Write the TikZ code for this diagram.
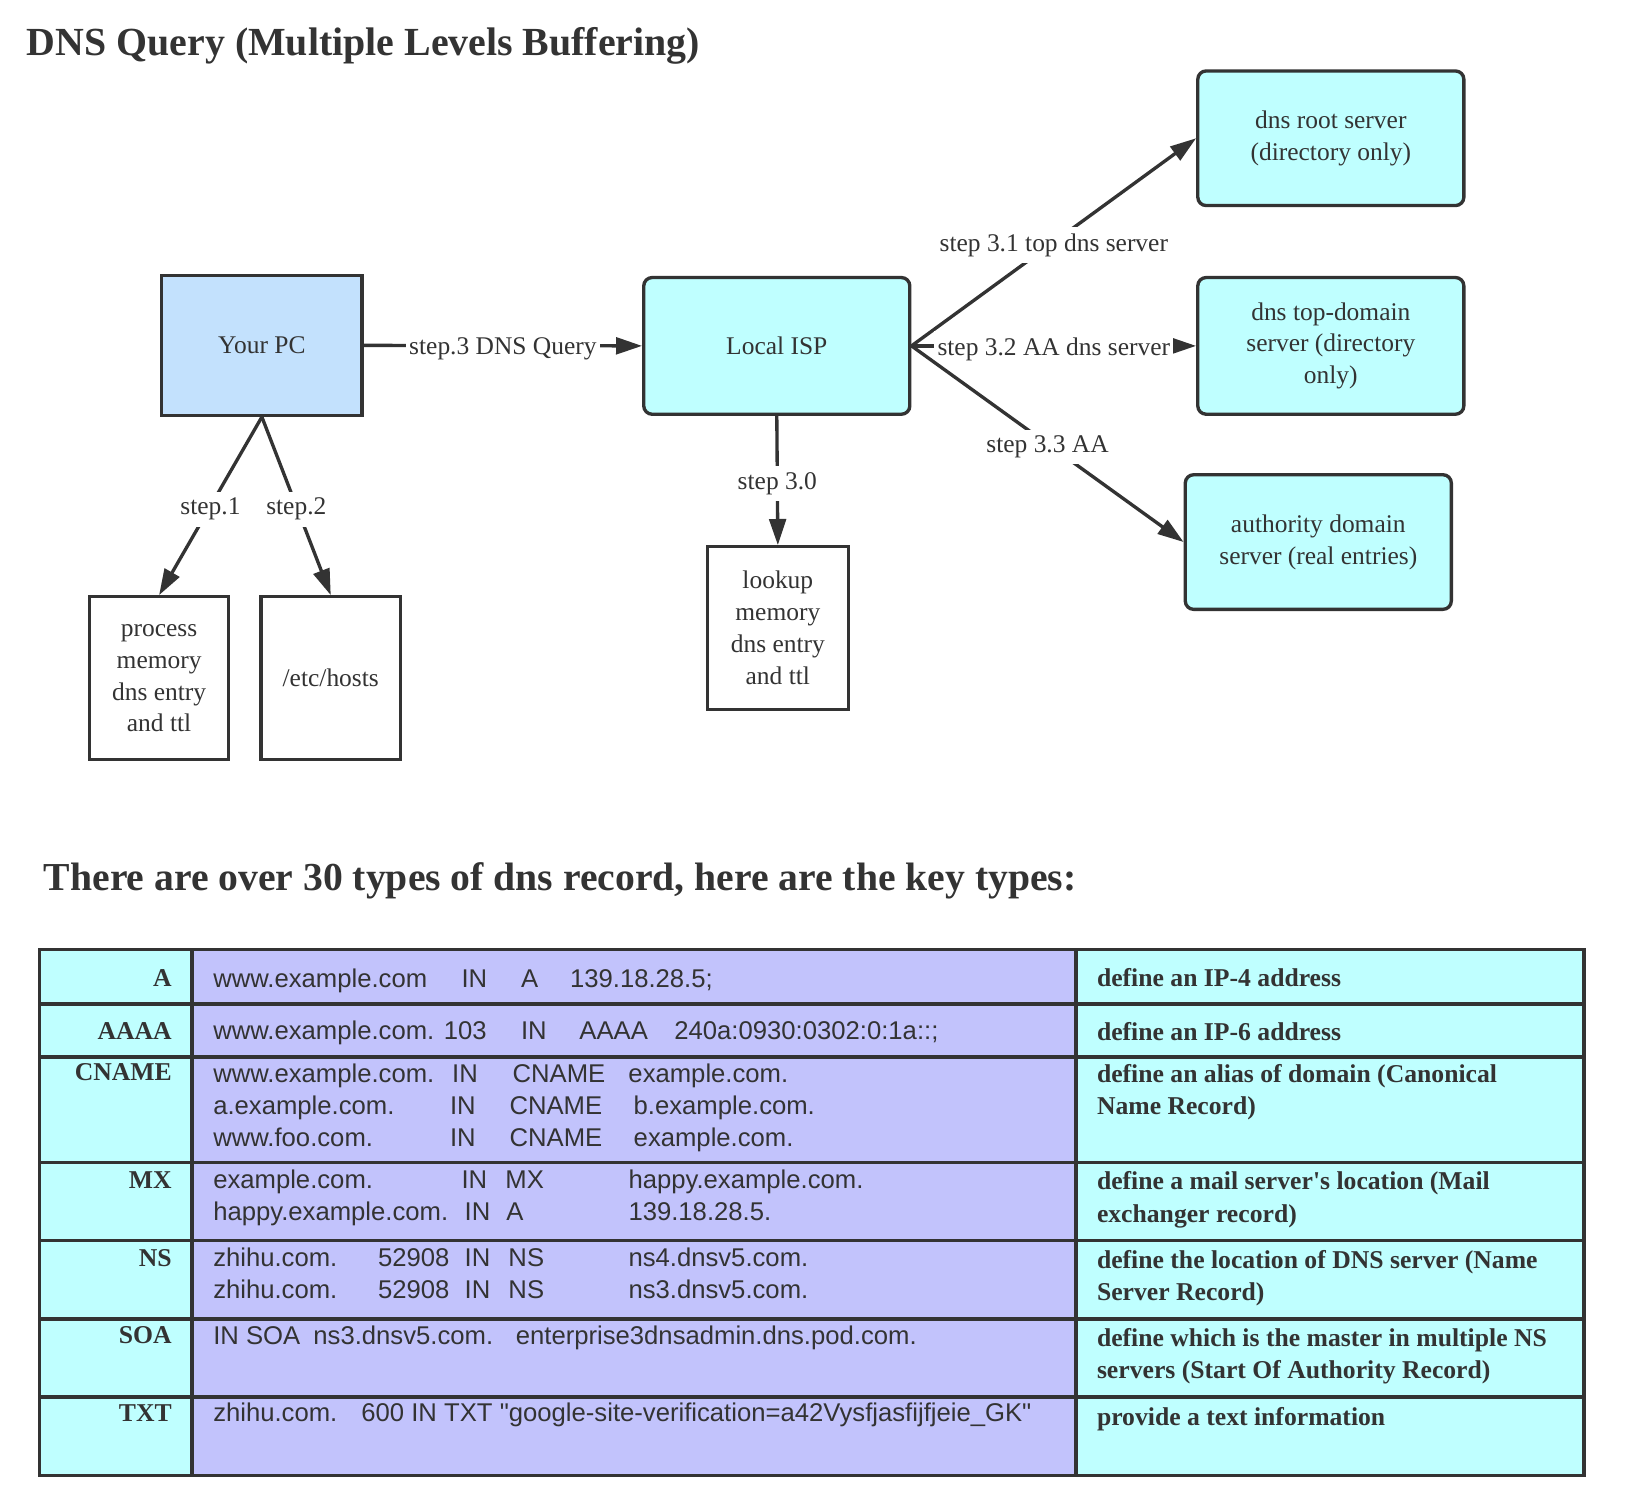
\documentclass[tikz,border=0pt]{standalone}
\usepackage{fontspec}
\setmainfont{Liberation Serif}[Ligatures=TeXOff]
\setsansfont{Liberation Sans}[Ligatures=TeXOff]
\usetikzlibrary{arrows.meta}
\definecolor{ink}{HTML}{333333}
\definecolor{pcblue}{HTML}{C3E1FD}
\definecolor{cyanf}{HTML}{BFFFFF}
\definecolor{lav}{HTML}{C2C3FC}
\newcommand\dnsnodefont{\fontsize{12.2}{15.3}\selectfont}
\newcommand\dnstitlefont{\fontsize{19.1}{23}\selectfont\bfseries}
\newcommand\dnstblbold{\fontsize{12.3}{15.4}\selectfont\bfseries}
\newcommand\dnstblsans{\sffamily\fontsize{12.3}{15.2}\selectfont}
\newcommand\tk[2]{\makebox[#1pt][l]{#2}}
\begin{document}
\begin{tikzpicture}[x=0.5pt,y=-0.5pt,
  box/.style={draw=ink, line width=1.6pt, align=center, text=ink, font=\dnsnodefont, inner sep=2pt},
  rbox/.style={box, fill=cyanf, rounded corners=4pt, minimum width=127.5pt},
  wbox/.style={box, fill=white, minimum width=66.5pt, minimum height=78pt},
  conn/.style={draw=ink, line width=1.6pt, -{Triangle[length=12.5pt,width=8pt]}},
  lbl/.style={fill=white, font=\dnsnodefont, text=ink, inner xsep=1.5pt, inner ysep=3pt, yshift=-1.5pt},
  heading/.style={anchor=base west, inner sep=0pt, font=\dnstitlefont, text=ink},
  tbl/.style={draw=ink, line width=1.7pt},
  lcol/.style={anchor=base east, inner sep=0pt, font=\dnstblbold, text=ink},
  mcol/.style={anchor=base west, inner sep=0pt, font=\dnstblsans, text=ink},
  rcol/.style={anchor=base west, inner sep=0pt, font=\dnstblbold, text=ink, align=left}
]
\useasboundingbox (0,0) rectangle (1568,1447);

% title
\node[heading] (title) at (25.4,53) {DNS Query (Multiple Levels Buffering)};

% nodes
\node[box, fill=pcblue, minimum width=96pt, minimum height=67pt] (pc) at (251,331) {Your PC};
\node[rbox, minimum height=65.5pt] (isp) at (744.5,331.5) {Local ISP};
\node[rbox, minimum height=64.5pt] (root) at (1275.5,132.5) {dns root server\\(directory only)};
\node[rbox, minimum height=65.5pt] (topd) at (1275.5,331.5) {dns top-domain\\server (directory\\only)};
\node[rbox, minimum height=64.5pt] (auth) at (1263.5,519.5) {authority domain\\server (real entries)};
\node[wbox] (proc) at (152.5,650) {process\\memory\\dns entry\\and ttl};
\node[wbox, minimum width=67pt] (hosts) at (317,650) {/etc/hosts};
\node[wbox, minimum width=67.5pt] (lookup) at (745.5,602) {lookup\\memory\\dns entry\\and ttl};

% connectors
\draw[conn] (pc.south) -- node[lbl] {step.1} (proc.north);
\draw[conn] (pc.south) -- node[lbl] {step.2} (hosts.north);
\draw[conn] (pc.east) -- node[lbl] {step.3 DNS Query} (isp.west);
\draw[conn] (isp.south) -- node[lbl] {step 3.0} (lookup.north);
\draw[conn] (isp.east) -- node[lbl] {step 3.1 top dns server} (root.west);
\draw[conn] (isp.east) -- node[lbl] {step 3.2 AA dns server} (topd.west);
\draw[conn] (isp.east) -- node[lbl] {step 3.3 AA} (auth.west);

% second heading
\node[heading, font=\fontsize{19}{23}\selectfont\bfseries] (head2) at (41.7,853) {There are over 30 types of dns record, here are the key types:};

% table
\fill[cyanf] (38,910) rectangle (184,1414);
\fill[lav] (184,910) rectangle (1031,1414);
\fill[cyanf] (1031,910) rectangle (1518,1414);
\foreach \yy in {962,1013,1114,1189,1264,1339} \draw[tbl] (38,\yy) -- (1518,\yy);
\foreach \xx in {184,1031} \draw[tbl] (\xx,910) -- (\xx,1414);
\draw[tbl] (38,910) rectangle (1518,1414);

% left column
\node[lcol] (lA) at (165,945) {A};
\node[lcol] (lAAAA) at (165,996) {AAAA};
\node[lcol] (lCNAME) at (165,1036) {CNAME};
\node[lcol] (lMX) at (165,1139) {MX};
\node[lcol] (lNS) at (165,1214) {NS};
\node[lcol] (lSOA) at (165,1288) {SOA};
\node[lcol] (lTXT) at (165,1362) {TXT};

% middle column
\node[mcol] (m1) at (204,946) {\tk{119}{www.example.com}\tk{28.5}{IN}\tk{23.5}{A}139.18.28.5;};
\node[mcol] (m2) at (204,996.5) {\tk{147.5}{www.example.com. 103}\tk{28}{IN}\tk{45.5}{AAAA}240a:0930:0302:0:1a::;};
\node[mcol] (m3a) at (204,1037.5) {\tk{114.5}{www.example.com.}\tk{29}{IN}\tk{55.5}{CNAME}example.com.};
\node[mcol] (m3b) at (204,1068.3) {\tk{113.5}{a.example.com.}\tk{28.5}{IN}\tk{59.5}{CNAME}b.example.com.};
\node[mcol] (m3c) at (204,1098.8) {\tk{113.5}{www.foo.com.}\tk{28.5}{IN}\tk{59.5}{CNAME}example.com.};
\node[mcol] (m4a) at (204,1139.5) {\tk{119}{example.com.}\tk{21}{IN}\tk{59}{MX}happy.example.com.};
\node[mcol] (m4b) at (204,1169.8) {\tk{120.5}{happy.example.com.}\tk{20}{IN}\tk{58.5}{A}139.18.28.5.};
\node[mcol] (m5a) at (204,1214.2) {\tk{79}{zhihu.com.}\tk{41.5}{52908}\tk{21}{IN}\tk{57.5}{NS}ns4.dnsv5.com.};
\node[mcol] (m5b) at (204,1244.6) {\tk{79}{zhihu.com.}\tk{41.5}{52908}\tk{21}{IN}\tk{57.5}{NS}ns3.dnsv5.com.};
\node[mcol] (m6) at (204,1288.2) {\tk{48}{IN SOA}\tk{97}{ns3.dnsv5.com.}enterprise3dnsadmin.dns.pod.com.};
\node[mcol] (m7) at (204,1362.3) {\tk{71}{zhihu.com.}600 IN TXT "google-site-verification=a42Vysfjasfijfjeie\_GK"};

% right column (base anchor = baseline of the last line)
\node[rcol] (r1) at (1051,945.3) {define an IP-4 address};
\node[rcol] (r2) at (1051,997) {define an IP-6 address};
\node[rcol] (r3) at (1051,1068.5) {define an alias of domain (Canonical\\Name Record)};
\node[rcol] (r4) at (1051,1171.3) {define a mail server's location (Mail\\exchanger record)};
\node[rcol] (r5) at (1051,1246.4) {define the location of DNS server (Name\\Server Record)};
\node[rcol] (r6) at (1051,1321.6) {define which is the master in multiple NS\\servers (Start Of Authority Record)};
\node[rcol] (r7) at (1051,1366.4) {provide a text information};
\end{tikzpicture}
\end{document}
